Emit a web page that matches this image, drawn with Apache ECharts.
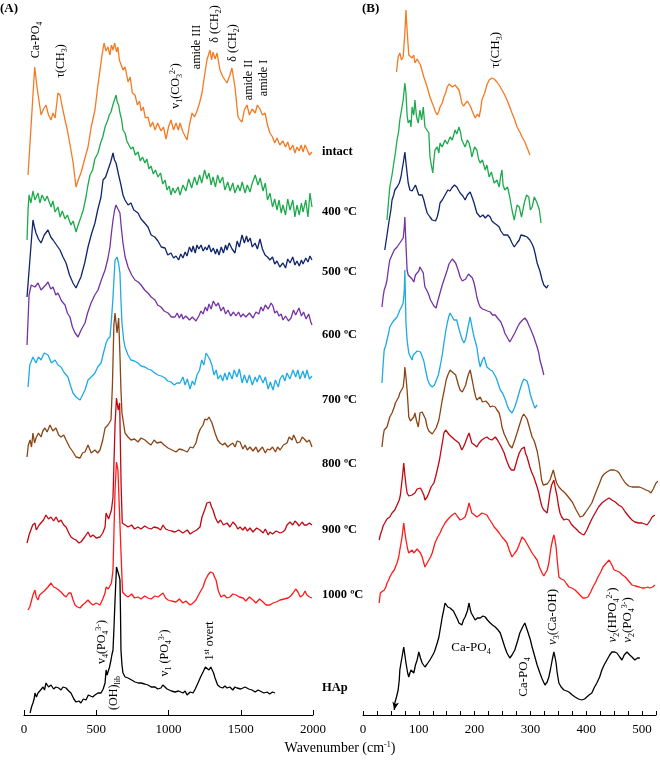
<!DOCTYPE html>
<html>
<head>
<meta charset="utf-8">
<script src="https://cdn.jsdelivr.net/npm/echarts@6/dist/echarts.min.js"></script>
<style>
html,body{margin:0;padding:0;background:#fff;}
#chart{width:660px;height:762px;}
</style>
</head>
<body>
<div id="chart"></div>
<script>
// spectra, [wavenumber, offset intensity (a.u.)]
var intactL = [[28,540],[74,648],[90,628],[118,600],[135,606],[152,610],[170,600],[187,595],[200,602],[215,597],[235,622],[249,620],[265,608],[284,595],[300,585],[325,565],[340,552],[360,528],[375,535],[394,542],[420,556],[443,568],[465,588],[491,605],[510,628],[526,645],[540,660],[554,672],[567,664],[581,668],[595,660],[605,670],[616,665],[628,672],[640,663],[650,668],[660,655],[671,657],[685,645],[700,648],[720,633],[735,638],[750,622],[768,620],[785,610],[800,614],[810,604],[825,608],[840,597],[858,598],[875,588],[890,593],[907,585],[925,592],[948,584],[965,588],[983,576],[1000,588],[1017,595],[1035,585],[1052,592],[1068,585],[1080,592],[1100,583],[1128,575],[1145,590],[1163,602],[1180,598],[1197,604],[1215,612],[1232,622],[1250,640],[1266,655],[1287,665],[1298,655],[1308,663],[1322,656],[1336,662],[1356,645],[1377,638],[1405,632],[1425,640],[1439,647],[1460,628],[1481,598],[1495,595],[1509,593],[1525,605],[1543,610],[1560,600],[1578,606],[1600,602],[1615,610],[1633,606],[1650,600],[1668,602],[1685,590],[1702,582],[1720,578],[1735,572],[1751,577],[1770,570],[1792,574],[1810,568],[1825,573],[1841,565],[1860,570],[1875,562],[1889,568],[1905,564],[1918,570],[1931,563],[1945,570],[1958,566],[1975,560],[1993,563]];
var c400L = [[21,475],[28,505],[35,520],[48,512],[62,524],[76,515],[97,522],[110,512],[125,520],[145,514],[160,519],[187,508],[200,514],[215,503],[235,508],[250,498],[265,504],[284,496],[300,500],[325,490],[340,494],[360,483],[375,490],[394,498],[410,505],[429,518],[440,528],[457,540],[475,545],[490,556],[512,562],[530,572],[545,578],[561,588],[580,595],[590,600],[602,603],[615,610],[625,612],[637,620],[645,613],[655,610],[664,602],[675,596],[685,585],[699,582],[712,574],[725,576],[740,566],[755,568],[770,560],[789,563],[805,554],[820,558],[837,552],[850,556],[865,546],[879,549],[895,541],[910,545],[927,538],[945,542],[960,531],[976,535],[990,525],[1005,529],[1017,520],[1030,527],[1045,522],[1066,528],[1080,520],[1100,530],[1120,524],[1140,536],[1160,527],[1180,538],[1197,530],[1215,540],[1230,532],[1250,545],[1266,536],[1280,542],[1295,530],[1308,538],[1325,528],[1340,540],[1356,532],[1375,538],[1390,525],[1410,533],[1426,524],[1445,532],[1460,522],[1480,530],[1495,524],[1510,533],[1530,522],[1545,530],[1564,523],[1580,532],[1600,540],[1619,530],[1635,537],[1654,524],[1670,532],[1685,515],[1702,522],[1720,508],[1735,516],[1751,505],[1765,515],[1780,502],[1792,510],[1810,500],[1825,516],[1841,505],[1860,515],[1875,498],[1889,510],[1905,500],[1920,512],[1931,503],[1950,515],[1965,498],[1979,522],[1993,508]];
var c500L = [[21,418],[62,495],[72,488],[83,482],[100,476],[118,472],[140,480],[166,485],[185,478],[201,475],[225,470],[249,465],[270,458],[291,452],[315,440],[339,432],[360,427],[375,432],[394,438],[420,452],[443,468],[465,480],[491,492],[510,505],[533,518],[547,535],[565,538],[581,545],[600,553],[616,562],[626,555],[637,552],[655,540],[671,530],[685,520],[699,515],[720,510],[740,512],[760,505],[789,502],[810,496],[835,492],[858,488],[880,480],[905,478],[927,474],[950,468],[976,467],[995,460],[1017,462],[1035,457],[1052,459],[1070,455],[1085,461],[1100,457],[1115,463],[1128,459],[1145,468],[1160,463],[1170,469],[1185,462],[1197,470],[1210,466],[1225,470],[1240,464],[1255,468],[1266,465],[1280,470],[1295,463],[1310,467],[1325,461],[1336,466],[1350,460],[1365,468],[1380,462],[1395,470],[1405,465],[1420,472],[1440,466],[1460,462],[1475,474],[1490,468],[1509,480],[1525,472],[1540,479],[1550,473],[1565,477],[1580,468],[1599,472],[1615,466],[1633,476],[1650,466],[1668,460],[1685,458],[1702,455],[1720,458],[1735,451],[1751,454],[1770,448],[1792,452],[1810,447],[1825,456],[1841,452],[1860,458],[1875,450],[1889,454],[1905,449],[1920,455],[1931,451],[1950,457],[1965,453],[1979,459],[1993,455]];
var c600L = [[21,370],[35,420],[50,430],[76,428],[97,432],[118,425],[131,425],[150,430],[166,433],[185,426],[201,428],[220,420],[235,422],[260,414],[284,410],[300,402],[318,398],[335,388],[353,382],[374,378],[395,385],[422,392],[440,402],[464,412],[490,420],[512,425],[535,435],[561,445],[580,456],[595,468],[605,482],[616,495],[627,505],[637,510],[650,506],[664,502],[675,485],[685,472],[700,458],[720,448],[745,440],[768,435],[790,433],[810,430],[835,425],[858,422],[880,418],[907,415],[925,410],[948,408],[970,404],[997,402],[1020,398],[1045,398],[1060,402],[1075,397],[1090,401],[1100,396],[1120,399],[1145,395],[1165,398],[1190,394],[1210,399],[1225,404],[1239,401],[1255,408],[1268,404],[1280,411],[1295,406],[1310,414],[1329,409],[1345,412],[1363,404],[1380,408],[1395,401],[1412,405],[1430,399],[1450,403],[1467,399],[1485,403],[1500,398],[1516,401],[1535,398],[1560,402],[1585,397],[1605,403],[1625,401],[1640,408],[1654,404],[1670,410],[1690,406],[1710,412],[1723,409],[1735,402],[1750,404],[1765,399],[1780,401],[1792,395],[1810,399],[1830,394],[1848,397],[1865,405],[1880,400],[1903,407],[1920,399],[1935,403],[1952,396],[1970,401],[1985,393],[1993,390]];
var c700L = [[28,328],[40,350],[62,358],[83,352],[100,358],[118,355],[140,362],[166,360],[190,352],[215,355],[235,350],[256,348],[280,342],[304,338],[325,328],[339,322],[360,318],[388,315],[405,320],[422,325],[443,335],[465,338],[491,342],[510,348],[533,352],[550,362],[568,372],[580,376],[595,378],[605,395],[616,418],[630,455],[644,458],[654,452],[664,442],[671,415],[678,392],[690,375],[699,368],[720,360],[740,355],[765,354],[789,352],[810,349],[837,348],[858,346],[879,345],[905,342],[927,340],[950,339],[976,337],[995,334],[1017,333],[1040,330],[1059,332],[1080,332],[1100,338],[1115,330],[1130,336],[1149,326],[1165,334],[1180,330],[1197,340],[1215,345],[1230,355],[1245,350],[1260,362],[1273,364],[1285,356],[1300,350],[1315,340],[1330,345],[1343,336],[1360,340],[1375,334],[1390,342],[1405,335],[1420,343],[1440,336],[1455,345],[1474,338],[1490,346],[1510,332],[1525,340],[1543,332],[1560,340],[1580,330],[1600,338],[1613,333],[1630,340],[1654,332],[1670,338],[1690,326],[1705,333],[1723,325],[1740,335],[1760,328],[1772,336],[1790,340],[1805,334],[1820,342],[1840,336],[1862,345],[1880,338],[1895,345],[1910,336],[1930,344],[1945,337],[1958,345],[1975,336],[1993,339]];
var c800L = [[21,258],[30,270],[42,275],[52,268],[62,282],[73,272],[83,277],[100,282],[118,278],[130,284],[145,287],[160,283],[180,290],[200,284],[221,287],[240,280],[256,278],[275,280],[291,275],[315,268],[339,263],[360,258],[388,257],[405,262],[422,263],[443,270],[465,262],[491,265],[510,262],[526,265],[545,275],[561,287],[581,290],[602,295],[612,330],[622,390],[630,402],[644,382],[655,397],[664,360],[671,325],[678,302],[699,282],[720,278],[740,275],[765,276],[789,273],[810,277],[837,275],[860,272],[879,270],[900,275],[920,272],[948,273],[970,270],[997,267],[1025,265],[1052,263],[1075,266],[1100,265],[1130,263],[1150,268],[1170,267],[1190,272],[1204,280],[1220,286],[1239,290],[1252,296],[1266,295],[1280,298],[1301,292],[1312,290],[1322,282],[1340,275],[1356,272],[1375,270],[1390,272],[1410,268],[1426,270],[1445,272],[1460,268],[1475,274],[1495,273],[1515,266],[1530,270],[1545,265],[1564,268],[1585,264],[1605,268],[1620,263],[1633,265],[1650,268],[1670,262],[1685,266],[1702,265],[1720,268],[1740,263],[1755,268],[1772,265],[1795,270],[1820,272],[1835,278],[1855,275],[1866,280],[1876,277],[1890,272],[1910,273],[1925,278],[1940,276],[1958,273],[1975,275],[1993,268]];
var c900L = [[21,172],[35,180],[48,178],[60,190],[76,192],[85,185],[97,185],[105,190],[118,188],[135,195],[152,200],[170,196],[187,198],[205,194],[222,198],[240,193],[256,195],[275,190],[291,188],[310,182],[325,178],[345,176],[360,175],[380,172],[394,173],[420,178],[443,183],[460,178],[477,180],[500,177],[526,178],[545,182],[561,188],[568,202],[585,196],[595,198],[605,205],[616,218],[630,290],[640,317],[652,305],[662,312],[672,230],[680,192],[700,190],[720,188],[745,190],[765,186],[789,188],[810,186],[835,189],[858,187],[880,186],[900,188],[927,187],[945,185],[962,190],[980,186],[997,185],[1020,184],[1045,183],[1070,185],[1100,182],[1130,185],[1150,181],[1170,183],[1195,185],[1218,188],[1232,198],[1250,205],[1266,212],[1287,213],[1298,208],[1308,205],[1325,197],[1343,192],[1360,195],[1380,190],[1405,192],[1425,188],[1446,193],[1465,190],[1480,186],[1495,188],[1515,185],[1530,188],[1545,184],[1564,187],[1585,183],[1610,187],[1633,185],[1655,182],[1670,186],[1690,180],[1702,183],[1720,181],[1745,184],[1772,182],[1790,183],[1806,185],[1820,190],[1841,193],[1860,190],[1875,194],[1889,192],[1905,189],[1924,193],[1940,190],[1958,190],[1975,192],[1993,190]];
var c1000L = [[28,105],[40,108],[48,107],[62,120],[76,125],[85,118],[97,115],[108,120],[118,118],[140,124],[166,128],[187,132],[205,128],[221,127],[240,125],[256,123],[275,120],[291,118],[310,122],[325,122],[340,115],[353,110],[370,108],[388,107],[405,110],[422,112],[443,115],[460,112],[477,110],[500,112],[526,110],[545,116],[561,122],[568,128],[583,126],[595,125],[605,132],[616,145],[630,225],[640,253],[650,245],[660,245],[672,160],[682,123],[700,120],[720,118],[745,121],[765,117],[789,118],[810,116],[835,119],[858,117],[880,116],[905,119],[927,118],[945,120],[962,122],[980,117],[997,115],[1020,114],[1052,113],[1075,116],[1100,112],[1120,114],[1149,110],[1170,112],[1190,115],[1215,122],[1239,128],[1255,135],[1273,140],[1290,143],[1308,142],[1318,138],[1329,135],[1345,124],[1363,118],[1385,120],[1405,117],[1426,118],[1445,121],[1467,120],[1490,118],[1516,117],[1535,114],[1560,118],[1585,115],[1605,112],[1630,116],[1654,113],[1675,110],[1702,110],[1723,112],[1745,113],[1772,115],[1800,116],[1827,117],[1845,119],[1862,122],[1880,126],[1896,123],[1912,118],[1931,120],[1945,124],[1958,120],[1975,118],[1993,117]];
var hapL = [[42,2],[52,8],[62,12],[70,16],[76,22],[86,18],[97,22],[115,25],[132,28],[142,25],[152,32],[170,28],[187,30],[205,26],[221,28],[240,27],[256,25],[270,28],[291,27],[310,24],[325,22],[345,16],[360,13],[380,14],[394,12],[410,16],[429,15],[445,20],[457,22],[475,18],[491,20],[512,22],[533,22],[548,26],[561,32],[568,45],[575,40],[581,42],[592,48],[602,55],[608,60],[616,65],[622,85],[630,115],[640,148],[648,144],[654,142],[660,138],[664,135],[668,100],[671,65],[678,50],[685,42],[700,38],[720,37],[745,35],[768,33],[790,32],[810,32],[835,31],[858,30],[880,28],[907,28],[925,26],[948,27],[960,30],[976,28],[990,26],[997,25],[1020,24],[1045,23],[1070,24],[1100,22],[1115,24],[1128,20],[1150,23],[1170,22],[1185,26],[1204,32],[1222,38],[1239,43],[1255,48],[1266,48],[1280,45],[1293,48],[1301,47],[1312,42],[1322,37],[1340,30],[1356,28],[1375,27],[1390,29],[1405,27],[1425,28],[1445,25],[1460,28],[1474,27],[1500,26],[1530,28],[1555,26],[1578,25],[1600,23],[1620,25],[1633,23],[1660,22],[1682,23],[1700,21],[1720,23],[1737,22]];

var intactR = [[60,643],[63,658],[66,662],[69,655],[72,658],[75,682],[77,705],[79,685],[82,660],[85,662],[88,657],[91,660],[93,652],[97,656],[100,653],[103,650],[106,648],[109,638],[112,633],[115,628],[118,622],[120,618],[124,612],[127,608],[130,603],[133,600],[136,604],[138,608],[142,612],[145,618],[148,622],[151,628],[154,631],[156,633],[160,628],[165,630],[168,632],[172,625],[175,618],[177,612],[180,609],[183,608],[187,614],[190,612],[193,608],[195,605],[198,601],[201,597],[205,601],[208,598],[211,606],[213,615],[218,622],[222,630],[226,635],[231,637],[235,636],[240,633],[245,629],[249,625],[254,620],[258,615],[263,608],[267,602],[272,595],[276,588],[281,583],[285,578],[290,573],[295,566],[299,560]];
var c400R = [[43,495],[46,515],[48,528],[52,540],[56,555],[58,562],[61,575],[64,584],[66,595],[69,605],[72,615],[75,632],[77,622],[79,600],[81,592],[84,595],[86,588],[88,608],[91,600],[93,615],[96,598],[99,592],[102,605],[105,595],[108,608],[111,588],[114,590],[118,582],[120,558],[123,548],[125,542],[127,555],[129,565],[133,568],[136,562],[138,572],[142,568],[147,575],[151,571],[156,578],[160,575],[165,585],[168,581],[172,588],[175,582],[177,575],[180,577],[183,568],[187,575],[190,572],[193,565],[195,558],[200,568],[204,565],[207,556],[210,552],[214,555],[219,545],[222,550],[226,538],[230,543],[235,532],[240,535],[244,528],[247,540],[249,545],[251,530],[254,525],[259,528],[263,518],[267,505],[271,495],[276,510],[280,508],[284,498],[289,512],[293,520],[297,518],[300,505],[303,508],[307,518],[312,512],[316,505],[319,492]];
var c500R = [[39,465],[43,480],[47,495],[50,505],[52,515],[55,520],[57,525],[61,528],[65,532],[68,538],[70,545],[73,555],[75,563],[77,552],[79,542],[81,532],[84,525],[88,524],[91,522],[94,530],[97,525],[100,520],[102,522],[106,520],[109,515],[112,508],[115,502],[118,500],[120,498],[124,495],[127,497],[130,494],[133,498],[136,505],[138,512],[142,515],[145,518],[149,522],[152,525],[156,524],[159,527],[164,530],[168,528],[171,525],[174,522],[179,519],[183,515],[187,520],[192,523],[196,517],[199,512],[202,506],[204,502],[207,500],[210,498],[215,500],[219,497],[224,500],[228,498],[231,494],[235,492],[240,490],[244,488],[247,484],[249,482],[252,480],[254,478],[259,480],[263,477],[267,472],[271,468],[276,472],[280,475],[283,480],[285,482],[290,479],[294,478],[297,480],[299,475],[303,471],[306,467],[309,460],[312,452],[317,444],[321,435],[324,430],[326,428],[329,427],[332,430]];
var c600R = [[34,408],[36,418],[38,425],[41,430],[43,435],[46,448],[48,455],[52,460],[56,465],[58,463],[61,468],[64,470],[66,472],[69,474],[72,477],[74,488],[75,498],[77,470],[79,445],[81,440],[84,438],[88,436],[91,433],[94,440],[97,438],[100,444],[102,448],[105,445],[108,442],[110,432],[111,428],[115,424],[118,420],[121,415],[124,412],[127,409],[131,407],[134,414],[138,422],[142,430],[145,435],[148,440],[151,445],[154,451],[156,453],[160,456],[163,455],[166,452],[168,452],[171,444],[174,438],[178,434],[181,432],[184,436],[186,438],[189,441],[192,443],[196,437],[199,432],[202,424],[204,418],[207,412],[210,408],[214,406],[219,405],[223,404],[228,403],[232,400],[237,400],[241,397],[244,395],[247,393],[249,392],[252,386],[254,382],[259,377],[263,373],[268,378],[272,382],[277,388],[281,392],[286,395],[290,397],[294,394],[297,390],[301,385],[306,378],[309,373],[312,368],[315,362],[317,355],[321,347],[324,340]];
var c700R = [[34,332],[36,350],[38,365],[41,370],[43,375],[46,382],[48,388],[52,392],[56,395],[58,397],[61,398],[64,402],[66,405],[69,408],[72,412],[74,425],[75,445],[77,392],[79,375],[82,362],[85,358],[88,355],[90,360],[93,362],[97,364],[100,365],[103,363],[106,362],[109,354],[111,348],[114,340],[116,335],[120,330],[124,328],[128,330],[131,332],[135,340],[138,348],[142,360],[145,372],[148,383],[151,392],[154,399],[156,402],[160,398],[163,395],[166,397],[168,395],[171,388],[174,382],[178,375],[181,372],[184,376],[186,378],[189,390],[192,398],[196,386],[199,378],[202,372],[204,368],[207,356],[210,348],[214,355],[217,358],[220,352],[222,348],[225,346],[228,345],[232,344],[235,343],[238,338],[240,335],[243,330],[246,325],[250,322],[253,320],[256,314],[258,310],[262,305],[267,302],[272,308],[276,315],[281,325],[285,332],[288,336],[290,338],[294,334],[297,328],[300,320],[303,315],[306,310],[308,307],[310,308],[312,310]];
var c800R = [[34,268],[36,278],[38,285],[41,286],[43,288],[46,294],[48,298],[52,302],[56,308],[58,312],[61,315],[64,318],[66,322],[69,325],[72,328],[74,338],[75,348],[77,338],[79,325],[81,308],[82,298],[85,294],[88,292],[91,298],[93,302],[96,294],[99,288],[101,296],[102,302],[106,303],[109,305],[112,296],[115,288],[118,284],[120,282],[124,281],[127,282],[131,287],[136,295],[139,305],[142,315],[146,326],[149,335],[152,340],[156,345],[160,343],[163,342],[166,340],[168,338],[171,330],[174,325],[178,323],[181,322],[184,330],[186,335],[189,341],[192,345],[196,334],[199,325],[202,318],[204,315],[207,316],[210,318],[214,313],[217,312],[220,314],[222,315],[225,311],[228,308],[232,309],[237,308],[240,305],[244,302],[247,295],[249,288],[253,281],[258,275],[262,270],[267,267],[272,275],[276,282],[281,291],[285,298],[288,301],[290,302],[294,296],[297,290],[300,284],[303,278],[306,275],[308,272],[312,264],[315,255],[318,244],[320,235],[323,230],[326,228],[330,231],[335,235],[338,240],[341,245],[344,238],[347,232],[351,228],[356,225],[362,222],[368,218],[375,213],[382,205],[389,198],[394,199],[398,202],[404,207],[410,212],[414,218],[419,225],[424,232],[428,238],[432,241],[437,243],[443,245],[450,245],[455,244],[459,242],[464,237],[470,232],[476,229],[482,228],[488,228],[495,228],[500,227],[507,225],[512,224],[516,222],[520,226],[525,232],[529,234],[532,235]];
var c900R = [[29,175],[31,180],[34,185],[36,189],[39,192],[43,196],[48,198],[52,202],[57,205],[61,210],[65,215],[67,220],[68,225],[71,240],[73,252],[75,240],[77,230],[79,222],[82,219],[84,218],[88,220],[93,222],[97,226],[100,228],[103,227],[106,225],[109,220],[111,215],[115,218],[118,222],[122,228],[127,232],[130,238],[133,245],[137,255],[140,265],[143,275],[145,282],[148,285],[151,283],[155,280],[159,278],[165,275],[172,272],[175,268],[177,265],[180,268],[183,272],[187,278],[190,282],[193,276],[195,272],[200,270],[204,268],[208,272],[213,275],[218,277],[222,278],[226,276],[231,275],[234,277],[237,278],[241,275],[244,272],[248,268],[253,262],[257,255],[262,248],[266,245],[271,245],[276,255],[280,262],[284,266],[289,268],[291,262],[294,258],[297,252],[299,248],[302,243],[306,238],[309,233],[312,228],[315,222],[318,214],[321,208],[324,205],[327,203],[330,202],[332,210],[335,222],[338,230],[342,235],[345,226],[348,218],[350,210],[353,202],[356,198],[360,195],[364,196],[369,195],[373,191],[378,188],[382,186],[387,183],[392,181],[396,180],[401,185],[405,190],[410,196],[416,202],[422,208],[428,212],[435,215],[441,217],[446,215],[452,213],[458,210],[464,208],[470,203],[477,198],[482,195],[487,193],[494,192],[500,192],[505,191],[509,190],[514,194],[518,198],[521,199],[523,200]];
var c1000R = [[29,112],[31,122],[34,123],[38,125],[41,128],[43,132],[46,135],[48,138],[52,142],[56,145],[58,148],[61,152],[64,158],[66,165],[70,178],[73,192],[75,183],[77,175],[80,166],[82,162],[85,164],[88,165],[91,162],[93,163],[97,166],[100,165],[103,162],[106,158],[109,152],[111,148],[115,152],[118,155],[121,158],[124,162],[127,168],[129,172],[133,177],[138,182],[142,187],[147,192],[151,195],[156,198],[160,200],[165,202],[170,198],[174,195],[178,196],[183,198],[187,205],[190,212],[193,206],[195,202],[200,200],[204,198],[209,200],[213,202],[218,201],[222,200],[226,196],[231,192],[235,188],[240,185],[244,182],[249,178],[254,175],[258,172],[262,165],[267,158],[272,162],[276,165],[281,172],[285,178],[288,176],[290,175],[294,171],[297,168],[300,165],[303,162],[308,158],[312,155],[316,148],[321,142],[324,139],[326,138],[330,145],[333,152],[335,160],[337,168],[340,176],[342,180],[344,175],[346,168],[348,155],[351,138],[355,136],[360,135],[365,131],[369,128],[374,127],[380,125],[387,121],[394,117],[398,117],[403,118],[408,123],[412,128],[417,133],[421,138],[426,143],[430,148],[436,152],[441,155],[446,150],[450,145],[455,144],[459,143],[465,140],[470,138],[476,134],[482,130],[488,129],[495,128],[500,127],[505,127],[510,128],[514,127],[519,128],[523,130]];
var hapR = [[56,5],[57,12],[60,18],[63,25],[65,35],[66,45],[68,52],[70,58],[72,65],[73,68],[75,60],[77,52],[80,42],[82,38],[84,42],[86,45],[89,44],[91,42],[94,50],[97,55],[100,63],[103,57],[106,52],[109,50],[111,48],[115,51],[118,53],[121,56],[124,58],[127,62],[129,65],[133,72],[136,78],[139,88],[142,98],[145,106],[147,112],[150,110],[152,108],[156,107],[159,105],[162,104],[165,102],[169,96],[172,92],[175,90],[177,90],[180,95],[183,98],[187,104],[190,112],[192,106],[194,102],[198,98],[201,95],[205,97],[210,97],[215,99],[219,98],[223,95],[228,92],[232,90],[237,88],[242,85],[246,82],[250,75],[254,68],[258,62],[263,57],[267,60],[272,65],[277,74],[281,82],[286,88],[290,92],[293,87],[296,82],[300,75],[303,68],[306,62],[308,58],[312,50],[317,42],[321,36],[326,30],[330,33],[333,38],[336,46],[339,55],[342,63],[344,58],[346,52],[348,42],[351,32],[355,28],[360,25],[365,24],[369,23],[375,20],[380,18],[386,16],[392,15],[397,16],[401,18],[405,20],[410,22],[414,27],[419,32],[424,38],[428,45],[432,50],[437,55],[442,60],[446,63],[451,63],[455,62],[460,58],[464,55],[468,60],[473,63],[478,60],[482,58],[485,57],[487,55],[492,57],[496,57]];

var sampleNames = ['intact', '400 ºC', '500 ºC', '600 ºC', '700 ºC', '800 ºC', '900 ºC', '1000 ºC', 'HAp'];
var colors = ['#f47a22', '#1daa4c', '#10256a', '#7434a3', '#1eaae4', '#8a4515', '#c00812', '#ff1a1a', '#000000'];
var leftSpectra = [intactL, c400L, c500L, c600L, c700L, c800L, c900L, c1000L, hapL];
var rightSpectra = [intactR, c400R, c500R, c600R, c700R, c800R, c900R, c1000R, hapR];
var labelY = [152, 212, 272, 335, 400, 464, 530, 595, 688];

var SERIF = '"Liberation Serif", "DejaVu Serif", serif';
var rich = {
  sub: { fontSize: 8, fontFamily: SERIF, verticalAlign: 'bottom', lineHeight: 9, fill: '#000' },
  sup: { fontSize: 8, fontFamily: SERIF, verticalAlign: 'top', lineHeight: 9, fill: '#000' },
  nu: { fontSize: 13, fontFamily: SERIF, fontStyle: 'italic', fill: '#000' }
};

function note(text, x, y, rot, size) {
  return {
    type: 'text', x: x, y: y, rotation: rot ? Math.PI / 2 : 0,
    style: {
      text: text, rich: rich, fontSize: size || 12, fontFamily: SERIF, fill: '#000',
      lineHeight: 15, align: 'center', verticalAlign: 'middle',
      textAlign: 'center', textVerticalAlign: 'middle'
    }
  };
}

var graphics = [
  { type: 'text', x: 0, y: 2, style: { text: '(A)', fontSize: 13, fontWeight: 'bold', fontFamily: SERIF, fill: '#000' } },
  { type: 'text', x: 362, y: 2, style: { text: '(B)', fontSize: 13, fontWeight: 'bold', fontFamily: SERIF, fill: '#000' } },
  note('Ca-PO{sub|4}', 36, 40, true),
  note('τ(CH{sub|3})', 61, 61, true),
  note('v{sub|1}(CO{sub|3}{sup|2-})', 176, 86, true),
  note('amide III', 197, 47, true),
  note('δ (CH{sub|2})', 215, 24, true),
  note('δ (CH{sub|2})', 233, 43, true),
  note('amide II', 249, 80, true),
  note('amide I', 264, 78, true),
  note('v{sub|4}(PO{sub|4}{sup|3-})', 102, 642, true),
  note('(OH){sub|lib}', 114, 693, true),
  note('v{sub|1} (PO{sub|4}{sup|3-})', 165, 653, true),
  note('1{sup|st} overt', 210, 641, true),
  note('τ(CH{sub|3})', 496, 50, true, 13),
  note('Ca-PO{sub|4}', 471, 648, false, 13),
  note('Ca-PO{sub|4}', 524, 677, true, 13),
  note('{nu|ν}{sub|3}(Ca-OH)', 553, 617, true, 13),
  note('{nu|ν}{sub|2}(HPO{sub|4}{sup|2-})', 613, 615, true, 13),
  note('{nu|ν}{sub|2}(PO{sub|4}{sup|3-})', 628, 620, true, 13),
  note('Wavenumber (cm{sup|-1})', 340, 748, false, 14)
];
sampleNames.forEach(function (n, i) {
  graphics.push({ type: 'text', x: 322, y: labelY[i],
    style: { text: n, fontSize: 12.5, fontWeight: 'bold', fontFamily: SERIF, fill: '#000',
      verticalAlign: 'middle', textVerticalAlign: 'middle' } });
});

var series = [];
for (var i = sampleNames.length - 1; i >= 0; i--) {
  series.push({ name: sampleNames[i] + ' A', type: 'line', xAxisIndex: 0, yAxisIndex: 0,
    data: leftSpectra[i], showSymbol: false, symbol: 'none', silent: true,
    lineStyle: { color: colors[i], width: 1.3 } });
  var dataB = rightSpectra[i];
  var isHap = sampleNames[i] === 'HAp';
  if (isHap) {
    // the HAp trace starts with a small arrow head, as in the original
    dataB = dataB.map(function (p, k) {
      return k === 0 ? { value: p, symbol: 'arrow', symbolSize: [5, 8], symbolRotate: 170 } : p;
    });
  }
  series.push({ name: sampleNames[i] + ' B', type: 'line', xAxisIndex: 1, yAxisIndex: 1,
    data: dataB, showSymbol: isHap, symbol: 'none', silent: true,
    itemStyle: { color: colors[i] },
    lineStyle: { color: colors[i], width: 1.3 } });
}

var axisBase = {
  type: 'value',
  axisLine: { show: true, onZero: false, lineStyle: { color: '#000', width: 1 } },
  axisTick: { show: true, inside: true, length: 5, lineStyle: { color: '#000' } },
  axisLabel: { color: '#000', fontFamily: SERIF, fontSize: 13, margin: 8,
    formatter: function (v) { return String(v); } },
  splitLine: { show: false }
};

var chart = echarts.init(document.getElementById('chart'));
chart.setOption({
  animation: false,
  backgroundColor: '#fff',
  grid: [
    { left: 24, width: 289, top: 0, height: 715 },
    { left: 363, width: 293, top: 0, height: 715 }
  ],
  xAxis: [
    Object.assign({}, axisBase, { gridIndex: 0, min: 0, max: 2000, interval: 500 }),
    Object.assign({}, axisBase, { gridIndex: 1, min: 0, max: 525, interval: 25,
      axisTick: { show: true, inside: true, length: 4, lineStyle: { color: '#000' } },
      axisLabel: { color: '#000', fontFamily: SERIF, fontSize: 13, margin: 8,
        formatter: function (v) { return v % 100 === 0 ? String(v) : ''; } } })
  ],
  yAxis: [
    { type: 'value', gridIndex: 0, min: 0, max: 715, show: false },
    { type: 'value', gridIndex: 1, min: 0, max: 715, show: false }
  ],
  graphic: graphics,
  series: series
});
</script>
</body>
</html>
